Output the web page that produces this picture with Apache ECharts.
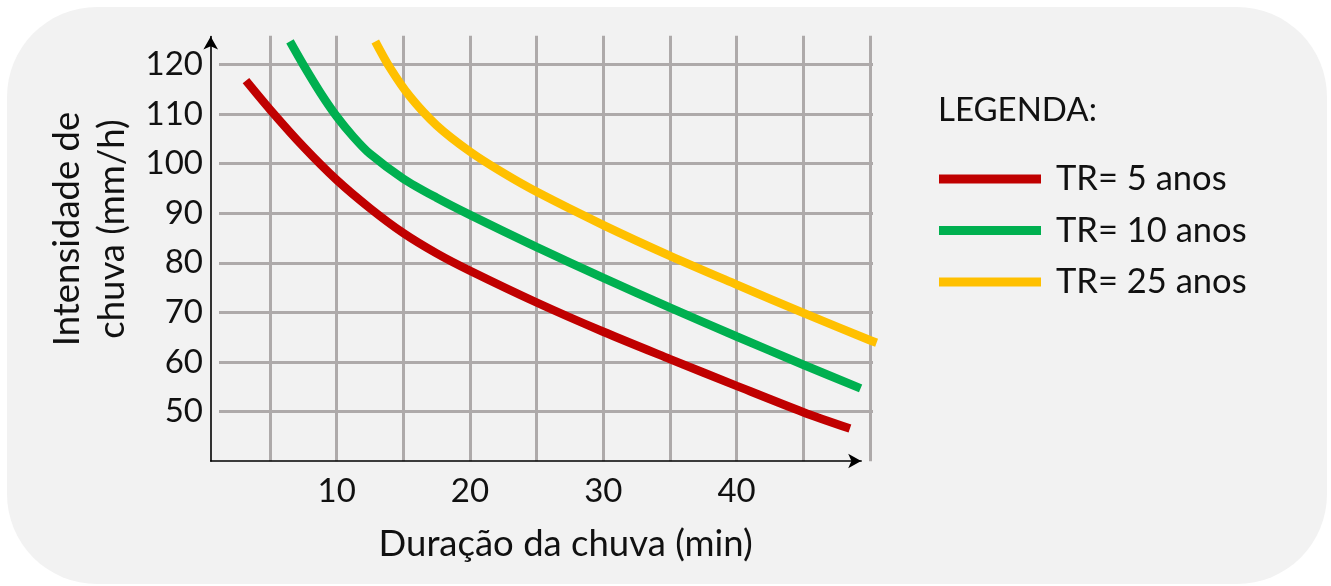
<!DOCTYPE html>
<html><head><meta charset="utf-8">
<script src="https://cdn.jsdelivr.net/npm/echarts@6/dist/echarts.min.js"></script>
<style>html,body{margin:0;padding:0;background:#fff}#c{width:1331px;height:586px}</style>
</head><body><div id="c"></div>
<script>
// ---- data ----
const seriesNames = ['TR= 5 anos', 'TR= 10 anos', 'TR= 25 anos'];
const seriesColors = ['#C00000', '#00B050', '#FFC000'];
const redX    = [3.2, 5, 7.5, 10, 12.5, 15, 17.5, 20, 25, 30, 35, 40, 45, 48.5];
const redY    = [116.7, 110.9, 103.4, 96.7, 91.0, 86.0, 81.9, 78.4, 72.0, 66.1, 60.6, 55.2, 49.9, 46.6];
const greenX  = [6.5, 7.5, 8.75, 10, 11.25, 12.5, 15, 17.5, 20, 25, 30, 35, 40, 45, 49.3];
const greenY  = [124.6, 119.9, 114.4, 109.5, 105.4, 101.95, 96.95, 93.1, 89.65, 83.15, 76.95, 70.95, 65.15, 59.45, 54.7];
const yellowX = [12.9, 14, 15.5, 17.5, 20, 22.5, 25, 30, 35, 40, 45, 50, 50.5];
const yellowY = [124.6, 119.3, 113.5, 107.7, 102.4, 98.1, 94.3, 87.6, 81.4, 75.6, 69.9, 64.4, 63.9];
const xTickLabels = [10, 20, 30, 40];
const yTickLabels = [50, 60, 70, 80, 90, 100, 110, 120];
const xTitle = 'Duração da chuva (min)';
const yTitle = 'Intensidade de\nchuva (mm/h)';
const legendTitle = 'LEGENDA:';

const FONT = 'Lato, "Open Sans", sans-serif';
const TXT = '#111111';
const GRIDC = '#aeaaaa';

const zip = (xs, ys) => xs.map((x, i) => [x, ys[i]]);
const allData = [zip(redX, redY), zip(greenX, greenY), zip(yellowX, yellowY)];

const chart = echarts.init(document.getElementById('c'), null, {renderer: 'canvas'});
const X_MIN = 0, X_MAX = 50.23, Y_MIN = 40, Y_MAX = 125.76;

chart.setOption({
  backgroundColor: '#ffffff',
  animation: false,
  graphic: [
    {type: 'rect', z: -100, shape: {x: 7, y: 7, width: 1320, height: 577, r: 90}, style: {fill: '#f2f2f2'}},
    {type: 'text', z: 10, x: 565.7, y: 544, style: {text: xTitle, font: '36.5px ' + FONT, fill: TXT, textAlign: 'center', textVerticalAlign: 'middle'}},
    {type: 'text', z: 10, x: 90, y: 229, rotation: Math.PI / 2, style: {text: yTitle, font: '36.5px ' + FONT, fill: TXT, textAlign: 'center', textVerticalAlign: 'middle', lineHeight: 45}},
    {type: 'text', z: 10, x: 938, y: 110.5, style: {text: legendTitle, font: '33px ' + FONT, fill: TXT, textAlign: 'left', textVerticalAlign: 'middle'}}
  ],
  legend: {
    orient: 'vertical', left: 939, top: 159, padding: 0,
    itemWidth: 102, itemHeight: 9, itemGap: 11.5, icon: 'rect',
    textStyle: {fontFamily: FONT, fontSize: 34.5, color: TXT, lineHeight: 40, padding: [0, 0, 0, 10]},
    data: seriesNames
  },
  grid: [
    {left: 203.3, top: 35.7, width: 669.7, height: 425.6},   // data + vertical grid
    {left: 219, top: 35.7, width: 654, height: 425.6},        // horizontal grid + y labels
    {left: 210.7, top: 36.5, width: 650.5, height: 424.5}     // axis lines with arrows
  ],
  xAxis: [
    {gridIndex: 0, type: 'value', min: X_MIN, max: X_MAX, interval: 5,
     axisLine: {show: false}, axisTick: {show: false},
     splitLine: {show: true, showMinLine: false, showMaxLine: false, lineStyle: {color: GRIDC, width: 3}},
     axisLabel: {margin: 14, fontFamily: FONT, fontSize: 33, color: TXT,
       formatter: v => xTickLabels.includes(Math.round(v * 1000) / 1000) ? String(v) : ''}},
    {gridIndex: 1, type: 'value', min: 0, max: 1, show: false},
    {gridIndex: 2, type: 'value', min: 0, max: 1,
     axisLine: {show: true, symbol: ['none', 'arrow'], symbolSize: [11, 13], lineStyle: {color: '#000', width: 1.6}},
     axisTick: {show: false}, axisLabel: {show: false}, splitLine: {show: false}}
  ],
  yAxis: [
    {gridIndex: 0, type: 'value', min: Y_MIN, max: Y_MAX, interval: 10,
     axisLine: {show: false}, axisTick: {show: false}, axisLabel: {show: false}, splitLine: {show: false}},
    {gridIndex: 1, type: 'value', min: Y_MIN, max: Y_MAX, interval: 10,
     axisLine: {show: false}, axisTick: {show: false},
     splitLine: {show: true, showMinLine: false, showMaxLine: false, lineStyle: {color: GRIDC, width: 3}},
     axisLabel: {margin: 16, fontFamily: FONT, fontSize: 33, color: TXT,
       formatter: v => yTickLabels.includes(Math.round(v * 1000) / 1000) ? String(v) : ''}},
    {gridIndex: 2, type: 'value', min: 0, max: 1,
     axisLine: {show: true, symbol: ['none', 'arrow'], symbolSize: [11, 13], lineStyle: {color: '#000', width: 1.6}},
     axisTick: {show: false}, axisLabel: {show: false}, splitLine: {show: false}}
  ],
  series: seriesNames.map((name, i) => ({
    name, type: 'line', xAxisIndex: 0, yAxisIndex: 0,
    data: allData[i], smooth: 0.3, symbol: 'none', clip: false, z: 5,
    lineStyle: {color: seriesColors[i], width: 8.5, cap: 'butt'},
    itemStyle: {color: seriesColors[i]}
  }))
});
</script></body></html>
